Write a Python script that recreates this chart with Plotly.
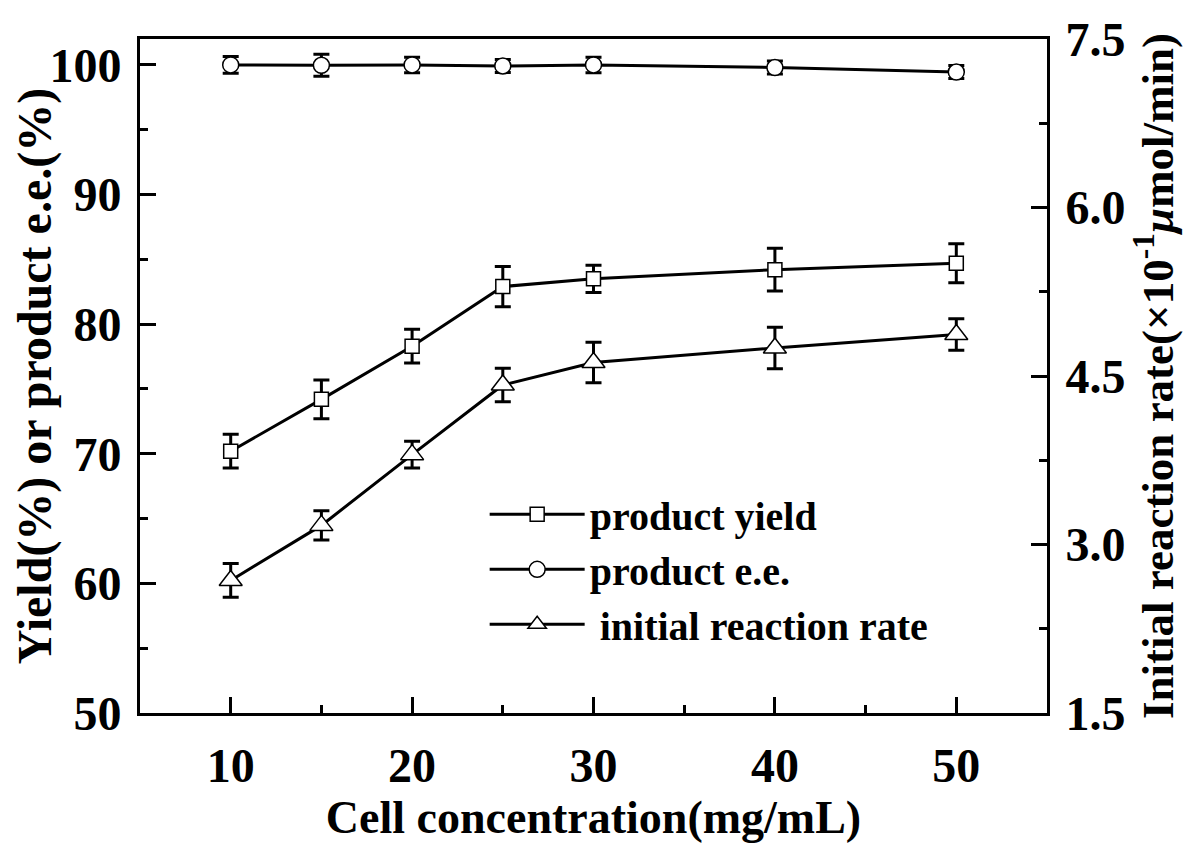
import plotly.graph_objects as go

cell_conc = [10, 15, 20, 25, 30, 40, 50]
yield_pct = [70.2, 74.2, 78.3, 82.9, 83.5, 84.2, 84.7]
yield_err = [1.3, 1.5, 1.3, 1.55, 1.05, 1.65, 1.5]
ee_pct = [100.0, 99.97, 100.0, 99.92, 100.0, 99.8, 99.45]
ee_err = [0.65, 0.85, 0.6, 0.5, 0.6, 0.5, 0.5]
rate = [2.68, 3.17, 3.80, 4.42, 4.62, 4.75, 4.87]
rate_err = [0.15, 0.13, 0.12, 0.15, 0.18, 0.185, 0.14]

FONT = "Liberation Serif"
BLACK = "black"

def err(arr):
    return dict(type="data", array=arr, visible=True, color=BLACK, thickness=3, width=8)

fig = go.Figure()
fig.add_trace(go.Scatter(
    x=cell_conc, y=yield_pct, error_y=err(yield_err), mode="lines+markers",
    name="product yield", line=dict(color=BLACK, width=3),
    marker=dict(symbol="square", size=14, color="white", line=dict(color=BLACK, width=1.5)),
))
fig.add_trace(go.Scatter(
    x=cell_conc, y=ee_pct, error_y=err(ee_err), mode="lines+markers",
    name="product e.e.", line=dict(color=BLACK, width=3),
    marker=dict(symbol="circle", size=16, color="white", line=dict(color=BLACK, width=1.5)),
))
fig.add_trace(go.Scatter(
    x=cell_conc, y=rate, error_y=err(rate_err), mode="lines+markers", yaxis="y2",
    name=" initial reaction rate", line=dict(color=BLACK, width=3),
    marker=dict(symbol="triangle-up", size=20, color="white", line=dict(color=BLACK, width=1.5)),
))

axis_common = dict(
    showline=True, linecolor=BLACK, linewidth=3, ticks="inside", ticklen=16,
    tickwidth=3, tickcolor=BLACK, showgrid=False, zeroline=False, automargin=False,
    tickfont=dict(family=FONT, size=48, color=BLACK, weight="bold"),
)

fig.update_layout(
    width=1192, height=839,
    paper_bgcolor="white", plot_bgcolor="white",
    font=dict(family=FONT, color=BLACK, weight="bold"),
    margin=dict(l=132, r=153, t=31, b=134),
    xaxis=dict(
        **axis_common, range=[5, 55], tick0=10, dtick=10, mirror=True,
        minor=dict(ticks="inside", ticklen=8, tickwidth=3, tickcolor=BLACK, dtick=5, tick0=5),
        ticklabelstandoff=8,
        title=dict(text="Cell concentration(mg/mL)", font=dict(family=FONT, size=46, weight="bold"), standoff=10),
    ),
    yaxis=dict(
        **axis_common, range=[50, 102], tick0=50, dtick=10,
        minor=dict(ticks="inside", ticklen=8, tickwidth=3, tickcolor=BLACK, dtick=5, tick0=50),
        ticklabelstandoff=6,
        title=dict(text="Yield(%) or product e.e.(%)", font=dict(family=FONT, size=48, weight="bold"), standoff=8),
    ),
    yaxis2=dict(
        **axis_common, overlaying="y", side="right", range=[1.5, 7.5], tick0=1.5, dtick=1.5,
        tickformat=".1f",
        minor=dict(ticks="inside", ticklen=8, tickwidth=3, tickcolor=BLACK, dtick=0.75, tick0=1.5),
        ticklabelstandoff=6,
        title=dict(text="Initial reaction rate(×10<sup>-1</sup><i>μ</i>mol/min)",
                   font=dict(family=FONT, size=45, weight="bold"), standoff=4),
    ),
    legend=dict(
        x=0.38, y=0.343, xanchor="left", yanchor="top",
        bgcolor="rgba(0,0,0,0)", borderwidth=0, itemwidth=95,
        font=dict(family=FONT, size=40, color=BLACK, weight="bold"),
    ),
    showlegend=True,
)

fig.write_html("out.html")
